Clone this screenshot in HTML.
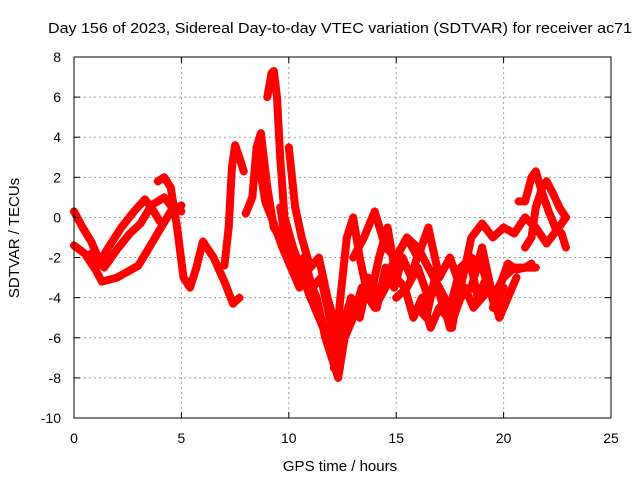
<!DOCTYPE html>
<html><head><meta charset="utf-8"><style>
body{margin:0;background:#fff}
svg{display:block;font-family:"Liberation Sans",sans-serif}
</style></head><body>
<svg id="chart" width="640" height="480" viewBox="0 0 640 480">
<text x="340" y="33" font-size="15" text-anchor="middle" textLength="584" lengthAdjust="spacingAndGlyphs">Day 156 of 2023, Sidereal Day-to-day VTEC variation (SDTVAR) for receiver ac71</text>
<text x="0" y="0" font-size="15" text-anchor="middle" transform="translate(19,238) rotate(-90)">SDTVAR / TECUs</text>
<text x="340" y="471" font-size="15" text-anchor="middle">GPS time / hours</text>
<g id="grid"></g>
<g id="marks"></g>
<rect x="74" y="57" width="537" height="361" fill="none" stroke="#000" stroke-width="1"/>
<g id="ticks"></g>
</svg>
<script>
const xTicks=[0,5,10,15,20,25];
const yTicks=[-10,-8,-6,-4,-2,0,2,4,6,8];
const tA=[0,0.5,1,1.3,2,3,3.5,4,4.5,5]; const vA=[-1.4,-1.8,-2.6,-3.2,-3,-2.4,-1.5,-0.6,0.3,0.6];
const tB=[0,0.4,0.8,1.2,1.6,2.2,2.8,3.3,3.6,4]; const vB=[0.3,-0.5,-1.2,-2.2,-1.5,-0.5,0.3,0.9,0.5,-0.2];
const tC=[0.8,1.4,2.0,2.6,3.1,3.6,4.2,4.5,5]; const vC=[-1.8,-2.5,-1.6,-0.8,-0.3,0.6,1,0.6,0.3];
const tD=[3.9,4.2,4.5,4.8,5.1,5.4,5.7,6.0,6.5,7,7.4,7.7]; const vD=[1.8,2,1.5,-0.5,-3,-3.5,-2.5,-1.2,-2,-3.2,-4.3,-4.0];
const tE=[7.0,7.2,7.35,7.5,7.7,7.9]; const vE=[-2.4,-0.5,2.5,3.6,3,2.3];
const tF=[8.0,8.3,8.5,8.7,9.0,9.3,9.6,10,10.5,11,11.5,12,12.3]; const vF=[0.2,1,3.5,4.2,1.5,-0.5,-1,-2,-2.5,-4,-5,-6.5,-7.5];
const tG=[9.0,9.2,9.3,9.45,9.6,9.8,10.2,10.7,11.2,11.6]; const vG=[6,7.2,7.3,6,3,0,-1.5,-3,-4.5,-5.5];
const tH=[8.6,8.9,9.3,9.7,10.1,10.5,10.9,11.3,11.7,12,12.3,12.6]; const vH=[2.8,0.8,-0.3,-1.5,-2.5,-3.5,-3,-4,-6,-7,-8,-6];
const tI=[10,10.3,10.6,11,11.4,11.8,12.2]; const vI=[3.5,0.5,-1,-2.5,-2,-4,-5.5];
const tJ=[12.1,12.4,12.7,13,13.3,13.7,14,14.5,15]; const vJ=[-7.5,-4,-1,0,-2,-4,-4.5,-3.5,-2.5];
const tK=[12.2,12.6,13,13.4,13.8,14.2,14.6,15.0,15.4,15.8,16.2,16.6,17,17.4,17.8,18.2,18.6,19,19.4,19.8,20.2,20.6]; const vK=[-5,-6,-5,-3.5,-4,-2,-0.5,-3,-3.5,-5,-4,-5.5,-4.5,-5,-4,-3.5,-4.5,-4,-3.5,-5,-4,-3];
const tL=[13,13.5,14,14.5,15,15.5,16,16.5,17,17.5,18,18.5,19,19.5,20,20.5,21,21.5,22,22.5,22.9]; const vL=[-2,-1,0.3,-1.5,-2,-1,-2,-0.5,-3,-2,-3.5,-1,-0.3,-1,-0.5,-0.8,0,-0.5,-1.3,-0.6,0];
const tM=[14,14.5,15,15.5,16,16.5,17,17.5,18,18.5,19,19.5,20,20.5,21,21.5]; const vM=[-4,-3,-2,-1,-1.5,-2.5,-3.5,-4.5,-2.5,-2,-2.5,-4,-3,-2.5,-2.5,-2.5];
const tN=[15,15.5,16,16.5,17,17.5,18,18.5,19,19.5]; const vN=[-4,-3.5,-2.5,-4,-3.5,-5.5,-4,-3.5,-1.5,-4];
const tO=[20.7,21,21.3,21.5,21.8,22.1,22.4,22.7,22.9]; const vO=[0.8,0.8,2,2.3,1.2,0.3,-0.5,-0.8,-1.5];
const tP=[21,21.3,21.5,21.8,22,22.3,22.6,22.9]; const vP=[-1.5,-1,0.5,1.5,1.8,1.2,0.5,0];
const tQ=[19.5,19.8,20.2,20.6,21,21.3]; const vQ=[-4.5,-3.5,-2.3,-2.6,-2.5,-2.3];
const tR=[9.6,9.9,10.3,10.7,11.1,11.5,11.9,12.3]; const vR=[0.5,-1.5,-2.5,-2,-3.5,-3,-5,-6.5];
const tS=[12.5,12.9,13.3,13.7,14.1,14.5,14.9,15.3,15.7,16.1]; const vS=[-5.5,-4,-5,-3,-4.5,-2.5,-3.5,-2,-3,-1.5];
const tU=[16,16.4,16.8,17.2,17.6,18,18.4,18.8,19.2,19.6,20]; const vU=[-4.5,-5,-3,-4.5,-5.5,-3,-2,-4,-3,-4.5,-3.5];
const series=[[tA,vA],[tB,vB],[tC,vC],[tD,vD],[tE,vE],[tF,vF],[tG,vG],[tH,vH],[tI,vI],[tJ,vJ],[tK,vK],[tL,vL],[tM,vM],[tN,vN],[tO,vO],[tP,vP],[tQ,vQ],[tR,vR],[tS,vS],[tU,vU]];
const NS="http://www.w3.org/2000/svg";
const X0=74,X1=611,Y0=418,Y1=57;
function xs(t){return X0+(t-0)/(25-0)*(X1-X0);}
function ys(v){return Y0-(v+10)/(18)*(Y0-Y1);}
const grid=document.getElementById('grid'),ticks=document.getElementById('ticks'),marks=document.getElementById('marks');
function mk(tag,attrs,parent){const e=document.createElementNS(NS,tag);for(const k in attrs)e.setAttribute(k,attrs[k]);parent.appendChild(e);return e;}
xTicks.forEach(t=>{const x=xs(t);
 if(t>0&&t<25){const g=mk('line',{x1:x,x2:x,y1:Y1,y2:Y0,stroke:'#a0a0a0','stroke-dasharray':'2,3'},grid);
 
 }
 mk('line',{x1:x,x2:x,y1:Y0,y2:Y0-6,stroke:'#000'},ticks);mk('line',{x1:x,x2:x,y1:Y1,y2:Y1+6,stroke:'#000'},ticks);
 const l=mk('text',{x:x,y:443,'font-size':14,'text-anchor':'middle'},ticks);l.textContent=t;
 
 });
yTicks.forEach(v=>{const y=ys(v);
 if(v>-10&&v<8){const g=mk('line',{x1:X0,x2:X1,y1:y,y2:y,stroke:'#a0a0a0','stroke-dasharray':'2,3'},grid);
 
 }
 mk('line',{x1:X0,x2:X0+6,y1:y,y2:y,stroke:'#000'},ticks);mk('line',{x1:X1,x2:X1-6,y1:y,y2:y,stroke:'#000'},ticks);
 const l=mk('text',{x:61,y:y+5,'font-size':14,'text-anchor':'end'},ticks);l.textContent=v;
 
 });
series.forEach((s,i)=>{const [T,V]=s;
 const pts=T.map((t,j)=>xs(t).toFixed(1)+','+ys(V[j]).toFixed(1)).join(' ');
 const p=mk('polyline',{points:pts,fill:'none',stroke:'#ff0000','stroke-width':8,'stroke-linejoin':'round','stroke-linecap':'round'},marks);
 
 
 T.forEach((t,j)=>{const x=xs(t),y=ys(V[j]);
  const m=mk('path',{d:`M${x-4},${y}H${x+4}M${x},${y-4}V${y+4}`,stroke:'#ff0000','stroke-width':1.5},marks);
  
  });
});
</script>
</body></html>
